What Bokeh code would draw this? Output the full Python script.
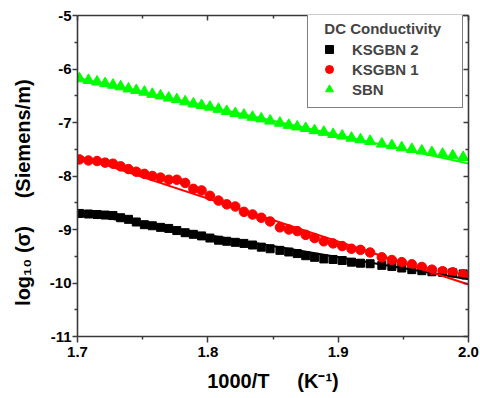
from bokeh.plotting import figure
from bokeh.models import LinearAxis, Legend, LegendItem, FixedTicker
from bokeh.embed import file_html
from bokeh.resources import INLINE
import numpy as np

# 1000/T (K^-1)
inv_T = [1.7015, 1.7084, 1.7150, 1.7212, 1.7272, 1.7331, 1.7391, 1.7451, 1.7513, 1.7574,
         1.7637, 1.7700, 1.7762, 1.7826, 1.7889, 1.7952, 1.8016, 1.8082, 1.8145, 1.8211,
         1.8277, 1.8343, 1.8410, 1.8478, 1.8553, 1.8621, 1.8686, 1.8751, 1.8819, 1.8890,
         1.8961, 1.9031, 1.9102, 1.9171, 1.9245, 1.9335, 1.9412, 1.9488, 1.9565, 1.9642,
         1.9719, 1.9801, 1.9879, 1.9959]

sbn = [-6.18, -6.21, -6.24, -6.27, -6.30, -6.33, -6.37, -6.40, -6.43, -6.47,
       -6.50, -6.54, -6.57, -6.61, -6.65, -6.68, -6.71, -6.75, -6.79, -6.83,
       -6.86, -6.90, -6.93, -6.97, -7.01, -7.05, -7.08, -7.11, -7.15, -7.18,
       -7.22, -7.25, -7.29, -7.32, -7.35, -7.40, -7.43, -7.47, -7.50, -7.53,
       -7.56, -7.59, -7.62, -7.65]

ksgbn1 = [-7.69, -7.71, -7.72, -7.75, -7.77, -7.82, -7.87, -7.92, -7.96, -8.00,
          -8.03, -8.07, -8.07, -8.13, -8.24, -8.27, -8.37, -8.46, -8.53, -8.57,
          -8.67, -8.72, -8.78, -8.85, -8.96, -9.00, -9.03, -9.10, -9.16, -9.22,
          -9.26, -9.31, -9.36, -9.38, -9.43, -9.52, -9.57, -9.61, -9.65, -9.70,
          -9.75, -9.78, -9.80, -9.84]

ksgbn2 = [-8.70, -8.71, -8.72, -8.73, -8.74, -8.78, -8.81, -8.86, -8.91, -8.93,
          -8.96, -8.98, -9.02, -9.06, -9.09, -9.12, -9.16, -9.20, -9.22, -9.24,
          -9.26, -9.29, -9.33, -9.36, -9.39, -9.42, -9.45, -9.49, -9.52, -9.55,
          -9.56, -9.58, -9.61, -9.63, -9.64, -9.67, -9.69, -9.72, -9.75, -9.77,
          -9.79, -9.80, -9.81, -9.83]

# linear fits: value at 1000/T = 1.7 and slope
fit_x = [1.7, 2.0]
sbn_fit = (-6.17, -5.33)
ksgbn1_fit = (-7.62, -8.03)
ksgbn2_fit = (-8.69, -4.13)

x_ticks = [1.7, 1.8, 1.9, 2.0]
x_minor = [1.75, 1.85, 1.95]
x_labels = ["1.7", "1.8", "1.9", "2.0"]
y_ticks = [-11, -10, -9, -8, -7, -6, -5]
y_minor = [-10.5, -9.5, -8.5, -7.5, -6.5, -5.5]
y_labels = ["-11", "-10", "-9", "-8", "-7", "-6", "-5"]

FONT = "Liberation Sans"
AX = "#3a3a3a"
NB = "\u00a0"

p = figure(width=480, height=398, x_range=(1.7, 2.0), y_range=(-11, -5),
           output_backend="svg", toolbar_location=None,
           x_axis_location=None, y_axis_location=None,
           min_border_left=77, min_border_right=12, min_border_top=15, min_border_bottom=62)
p.outline_line_color = None
p.grid.visible = False
p.background_fill_color = "white"

def fitline(par):
    fx = np.array(fit_x)
    return par[0] + par[1] * (fx - fit_x[0])

r2 = p.scatter(inv_T, ksgbn2, marker="square", size=8, color="black")
r1 = p.scatter(inv_T, ksgbn1, marker="circle", size=9.5, color="#ff0000")
r0 = p.scatter(inv_T, sbn, marker="triangle", size=11, color="#00ff00")
p.line(fit_x, fitline(ksgbn2_fit), line_color="black", line_width=2)
p.line(fit_x, fitline(ksgbn1_fit), line_color="#ff0000", line_width=2)
p.line(fit_x, fitline(sbn_fit), line_color="#00ff00", line_width=2)

def style_axis(ax, ticks, minor, labels, outer):
    ax.ticker = FixedTicker(ticks=ticks, minor_ticks=minor)
    ax.axis_line_color = AX
    ax.axis_line_width = 1.6
    ax.major_tick_line_color = AX
    ax.minor_tick_line_color = AX
    ax.major_tick_line_width = 1.5
    ax.minor_tick_line_width = 1.5
    if outer:
        ax.major_tick_out = 6
        ax.major_tick_in = 0
        ax.minor_tick_out = 3
        ax.minor_tick_in = 0
        ax.major_label_overrides = {t: l for t, l in zip(ticks, labels)}
        ax.major_label_text_font = FONT
        ax.major_label_text_font_style = "bold"
        ax.major_label_text_font_size = "15px"
        ax.major_label_text_color = "black"
        ax.axis_label_text_font = FONT
        ax.axis_label_text_font_style = "bold"
        ax.axis_label_text_font_size = "20px"
        ax.axis_label_text_color = "black"
    else:
        ax.major_tick_out = 0
        ax.major_tick_in = 5
        ax.minor_tick_out = 0
        ax.minor_tick_in = 3
        ax.major_label_text_font_size = "0px"
        ax.major_label_text_color = None
        ax.major_label_standoff = 0

xb = LinearAxis()
style_axis(xb, x_ticks, x_minor, x_labels, True)
xb.major_label_standoff = 4
xb.axis_label = "1000/T" + NB * 5 + "(K\u207b\u00b9)"
xb.axis_label_standoff = 10
p.add_layout(xb, "below")

yl = LinearAxis()
style_axis(yl, y_ticks, y_minor, y_labels, True)
yl.major_tick_out = 5
yl.major_label_standoff = 1
yl.axis_label = "log\u2081\u2080 (\u03c3)" + NB * 5 + "(Siemens/m)" + NB * 6
yl.axis_label_standoff = 13
p.add_layout(yl, "left")

xt = LinearAxis()
style_axis(xt, x_ticks, x_minor, x_labels, False)
p.add_layout(xt, "above")

yr = LinearAxis()
style_axis(yr, y_ticks, y_minor, y_labels, False)
p.add_layout(yr, "right")

legend = Legend(items=[LegendItem(label="KSGBN 2", renderers=[r2]),
                       LegendItem(label="KSGBN 1", renderers=[r1]),
                       LegendItem(label="SBN", renderers=[r0])],
                location=(230, 228),
                title=NB * 2 + "DC Conductivity" + NB * 3,
                title_text_font=FONT, title_text_font_style="bold",
                title_text_font_size="15px", title_standoff=2,
                label_text_font=FONT, label_text_font_style="bold",
                label_text_font_size="15px",
                glyph_width=26, glyph_height=20, label_height=20,
                label_standoff=10, spacing=0, padding=8, margin=0,
                border_line_color="black", border_line_width=1,
                background_fill_color="white", background_fill_alpha=1)
p.add_layout(legend)

open("out.html", "w").write(file_html(p, INLINE))
